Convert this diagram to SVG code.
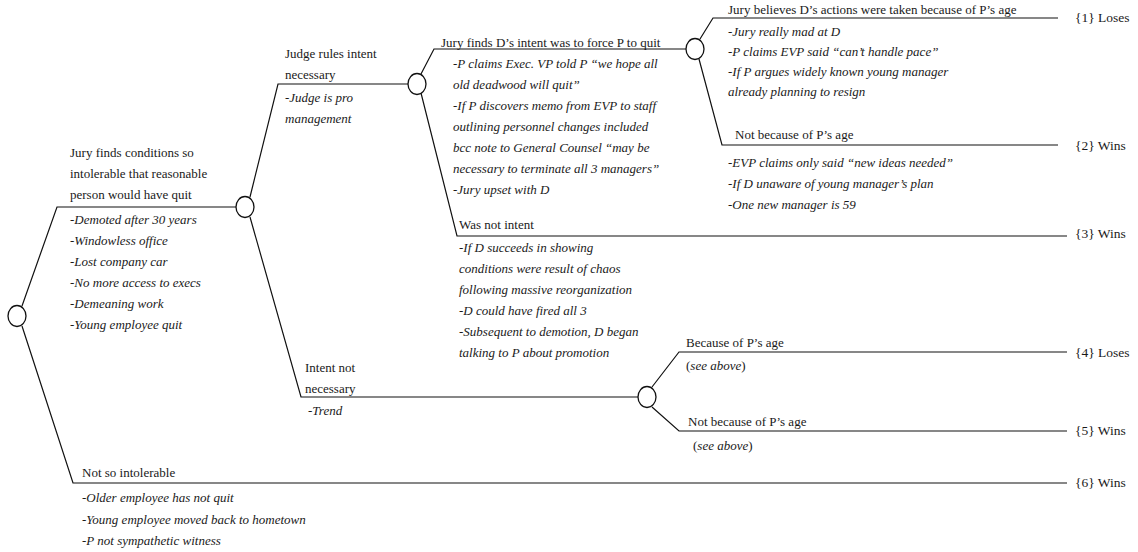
<svg xmlns="http://www.w3.org/2000/svg" width="1138" height="552" viewBox="0 0 1138 552">
<style>
.t{font-family:"Liberation Serif","Times New Roman",serif;font-size:13px;fill:#1a1a1a}
.i{font-style:italic}
.o{font-family:"Liberation Serif","Times New Roman",serif;font-size:13.5px;fill:#1a1a1a}
.c{fill:#fff;stroke:#111;stroke-width:1.3}
.l{fill:none;stroke:#111;stroke-width:1.2}
</style>
<rect width="1138" height="552" fill="#fff"/>
<g id="connectors">
<polyline class="l" points="22,306 57,207 236,207"/>
<polyline class="l" points="22,326 73,483 1067,483"/>
<polyline class="l" points="250,197 278,84 408,84"/>
<polyline class="l" points="250,217 301,397 638,397"/>
<polyline class="l" points="421,74 434,49 686,49"/>
<polyline class="l" points="421,93 457,236 1067,236"/>
<polyline class="l" points="700,39 713,18 1058,18"/>
<polyline class="l" points="699,59 722,145 1058,145"/>
<polyline class="l" points="652,387 679,352 1067,352"/>
<polyline class="l" points="652,407 679,431 1067,431"/>
</g>
<g id="branch-labels">
<g id="lbl-intolerable">
<text class="t" x="70" y="157">Jury finds conditions so</text>
<text class="t" x="70" y="178">intolerable that reasonable</text>
<text class="t" x="70" y="199">person would have quit</text>
<text class="t i" x="70" y="224">-Demoted after 30 years</text>
<text class="t i" x="70" y="245">-Windowless office</text>
<text class="t i" x="70" y="266">-Lost company car</text>
<text class="t i" x="70" y="287">-No more access to execs</text>
<text class="t i" x="70" y="308">-Demeaning work</text>
<text class="t i" x="70" y="329">-Young employee quit</text>
</g>
<g id="lbl-not-intolerable">
<text class="t" x="82" y="477">Not so intolerable</text>
<text class="t i" x="82" y="502">-Older employee has not quit</text>
<text class="t i" x="82" y="524">-Young employee moved back to hometown</text>
<text class="t i" x="82" y="545">-P not sympathetic witness</text>
</g>
<g id="lbl-intent-necessary">
<text class="t" x="285" y="58">Judge rules intent</text>
<text class="t" x="285" y="79">necessary</text>
<text class="t i" x="285" y="102">-Judge is pro</text>
<text class="t i" x="285" y="123">management</text>
</g>
<g id="lbl-intent-not-necessary">
<text class="t" x="305" y="372">Intent not</text>
<text class="t" x="305" y="393">necessary</text>
<text class="t i" x="308" y="415">-Trend</text>
</g>
<g id="lbl-force-quit">
<text class="t" x="441" y="47">Jury finds D’s intent was to force P to quit</text>
<text class="t i" x="453" y="68">-P claims Exec. VP told P “we hope all</text>
<text class="t i" x="453" y="89">old deadwood will quit”</text>
<text class="t i" x="453" y="110">-If P discovers memo from EVP to staff</text>
<text class="t i" x="453" y="131">outlining personnel changes included</text>
<text class="t i" x="453" y="152">bcc note to General Counsel “may be</text>
<text class="t i" x="453" y="173">necessary to terminate all 3 managers”</text>
<text class="t i" x="453" y="194">-Jury upset with D</text>
</g>
<g id="lbl-not-intent">
<text class="t" x="459" y="229">Was not intent</text>
<text class="t i" x="459" y="252">-If D succeeds in showing</text>
<text class="t i" x="459" y="273">conditions were result of chaos</text>
<text class="t i" x="459" y="294">following massive reorganization</text>
<text class="t i" x="459" y="315">-D could have fired all 3</text>
<text class="t i" x="459" y="336">-Subsequent to demotion, D began</text>
<text class="t i" x="459" y="357">talking to P about promotion</text>
</g>
<g id="lbl-age">
<text class="t" x="728" y="14">Jury believes D’s actions were taken because of P’s age</text>
<text class="t i" x="728" y="36">-Jury really mad at D</text>
<text class="t i" x="728" y="56">-P claims EVP said “can’t handle pace”</text>
<text class="t i" x="728" y="76">-If P argues widely known young manager</text>
<text class="t i" x="728" y="96">already planning to resign</text>
</g>
<g id="lbl-not-age">
<text class="t" x="735" y="139">Not because of P’s age</text>
<text class="t i" x="728" y="167">-EVP claims only said “new ideas needed”</text>
<text class="t i" x="728" y="188">-If D unaware of young manager’s plan</text>
<text class="t i" x="728" y="209">-One new manager is 59</text>
</g>
<g id="lbl-age2">
<text class="t" x="686" y="347">Because of P’s age</text>
<text class="t" x="686" y="370">(<tspan class="i">see above</tspan>)</text>
</g>
<g id="lbl-not-age2">
<text class="t" x="688" y="426">Not because of P’s age</text>
<text class="t" x="693" y="450">(<tspan class="i">see above</tspan>)</text>
</g>
</g>
<g id="n-root"><ellipse class="c" cx="17" cy="316" rx="9" ry="10.5"/></g>
<g id="n-conditions"><ellipse class="c" cx="245" cy="207" rx="9" ry="10.5"/></g>
<g id="n-intent-rule"><ellipse class="c" cx="417" cy="84" rx="9" ry="10.5"/></g>
<g id="n-intent-found"><ellipse class="c" cx="695" cy="49" rx="9" ry="10.5"/></g>
<g id="n-age-trend"><ellipse class="c" cx="647" cy="397" rx="9" ry="10.5"/></g>
<g id="o1"><text class="o" x="1075" y="22">{1} Loses</text></g>
<g id="o2"><text class="o" x="1075" y="150">{2} Wins</text></g>
<g id="o3"><text class="o" x="1075" y="238">{3} Wins</text></g>
<g id="o4"><text class="o" x="1075" y="357">{4} Loses</text></g>
<g id="o5"><text class="o" x="1075" y="435">{5} Wins</text></g>
<g id="o6"><text class="o" x="1075" y="487">{6} Wins</text></g>
</svg>
